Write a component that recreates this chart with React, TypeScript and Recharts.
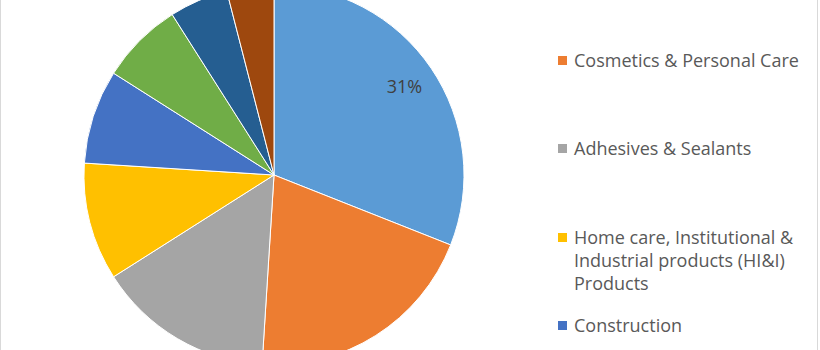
import React from "react";
import { PieChart, Pie, Cell, Legend } from "recharts";

const categories = [
  "Paints & Coatings",
  "Cosmetics & Personal Care",
  "Adhesives & Sealants",
  "Home care, Institutional & Industrial products (HI&I) Products",
  "Construction",
  "Pharmaceuticals",
  "Inks",
  "Others",
];
const shares = [31, 20, 15, 10, 8, 7, 5, 4];
const sliceColors = [
  "#5B9BD5",
  "#ED7D31",
  "#A5A5A5",
  "#FFC000",
  "#4472C4",
  "#70AD47",
  "#255E91",
  "#9E480E",
];
const labelledSlices = [0];
// legend entries that fall inside the visible (cropped) frame
const legendVisible = [1, 2, 3, 4];

const data = categories.map((name, i) => ({ name, value: shares[i] }));

const RAD = Math.PI / 180;
const FONT = "'Open Sans', 'DejaVu Sans', sans-serif";

const renderLabel = (props: any) => {
  const { cx, cy, midAngle, outerRadius, index, percent } = props;
  if (!labelledSlices.includes(index)) return null;
  const r = outerRadius * 0.83;
  const x = cx + r * Math.cos(-midAngle * RAD);
  const y = cy + r * Math.sin(-midAngle * RAD);
  return (
    <text
      x={x}
      y={y}
      fill="#404040"
      fontSize={18}
      fontFamily={FONT}
      textAnchor="middle"
      dominantBaseline="central"
    >
      {`${Math.round(percent * 100)}%`}
    </text>
  );
};

const renderLegend = () => (
  <div style={{ fontFamily: FONT, fontSize: 18, color: "#595959" }}>
    {legendVisible.map((i) => (
      <div
        key={data[i].name}
        style={{
          display: "flex",
          alignItems: "flex-start",
          height: i === legendVisible[legendVisible.length - 1] ? "auto" : 88.5,
        }}
      >
        <div
          style={{
            width: 9,
            height: 9,
            background: sliceColors[i],
            marginTop: 7,
            marginRight: 7,
            flex: "0 0 auto",
          }}
        />
        <div style={{ width: 232, lineHeight: "23.3px" }}>{data[i].name}</div>
      </div>
    ))}
  </div>
);

export default function App() {
  return (
    <div
      style={{
        position: "absolute",
        left: 0,
        top: 0,
        width: 818,
        height: 350,
        overflow: "hidden",
        borderLeft: "1px solid #d9d9d9",
        borderRight: "1px solid #d9d9d9",
        boxSizing: "border-box",
        background: "#fff",
      }}
    >
      <PieChart
        width={816}
        height={350}
        margin={{ top: 0, right: 0, bottom: 0, left: 0 }}
      >
        <Pie
          data={data}
          dataKey="value"
          nameKey="name"
          cx={273}
          cy={175}
          outerRadius={190}
          startAngle={90}
          endAngle={-270}
          stroke="#ffffff"
          strokeWidth={1}
          label={renderLabel}
          labelLine={false}
          isAnimationActive={false}
        >
          {data.map((d, i) => (
            <Cell key={d.name} fill={sliceColors[i]} />
          ))}
        </Pie>
        <Legend
          content={renderLegend}
          wrapperStyle={{ top: 48.8, left: 557, width: 250, bottom: "auto" }}
        />
      </PieChart>
    </div>
  );
}
